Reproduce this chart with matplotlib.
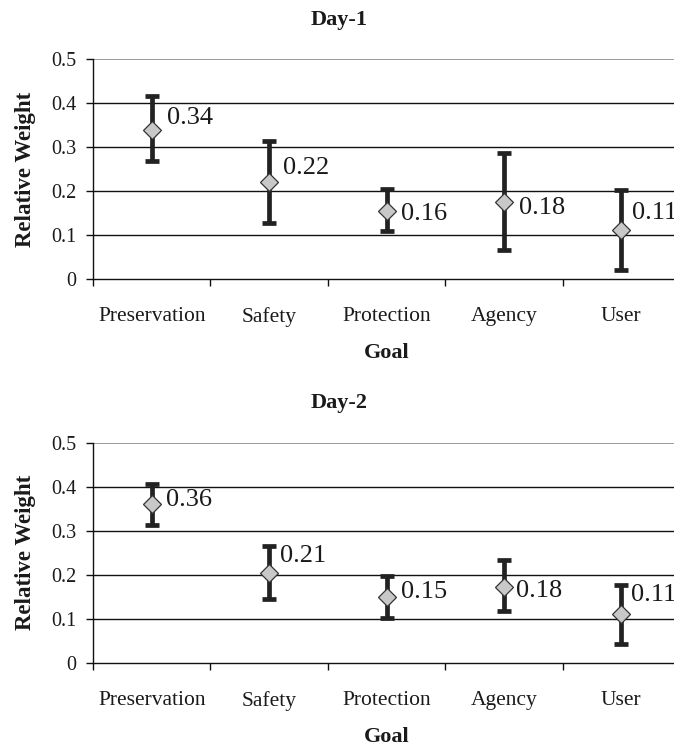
import matplotlib
matplotlib.use("Agg")
import matplotlib.pyplot as plt
import numpy as np

categories = ["Preservation", "Safety", "Protection", "Agency", "User"]
yticks = [0, 0.1, 0.2, 0.3, 0.4, 0.5]
ytick_labels = ["0", "0.1", "0.2", "0.3", "0.4", "0.5"]

day1_mean = [0.339, 0.220, 0.155, 0.174, 0.111]
day1_low = [0.268, 0.128, 0.108, 0.065, 0.021]
day1_high = [0.416, 0.314, 0.205, 0.287, 0.202]
day1_labels = ["0.34", "0.22", "0.16", "0.18", "0.11"]

day2_mean = [0.360, 0.203, 0.150, 0.172, 0.110]
day2_low = [0.313, 0.146, 0.103, 0.117, 0.043]
day2_high = [0.407, 0.265, 0.197, 0.234, 0.178]
day2_labels = ["0.36", "0.21", "0.15", "0.18", "0.11"]

# label offsets in pixels (dx, dy; dy positive = up) - styling
day1_offsets = [(15, 12), (14, 14), (14, -3), (15, -6), (11, 17)]
day2_offsets = [(14, 4), (11, 17), (14, 5), (12, -4), (10, 19)]

W, H = 674, 751
DPI = 100
plt.rcParams["font.family"] = ["Liberation Serif", "DejaVu Serif"]
TXT = "#1a1a1a"
fig = plt.figure(figsize=(W / DPI, H / DPI), dpi=DPI)

def px2pt(p):
    return p * 72.0 / DPI

def make_panel(rect, title, title_y, mean, low, high, labels, offsets):
    ax = fig.add_axes(rect)
    x = np.arange(len(categories))
    mean = np.array(mean)
    yerr = np.vstack([mean - np.array(low), np.array(high) - mean])
    ax.errorbar(x, mean, yerr=yerr, fmt="none", ecolor="#222222",
                elinewidth=3.4, capsize=5, capthick=3.4, zorder=3)
    ax.plot(x, mean, linestyle="none", marker="D", markersize=9.5,
            markerfacecolor="#c8c8c8", markeredgecolor="#333333",
            markeredgewidth=0.9, zorder=4)
    for xi, yi, lab, (dx, dy) in zip(x, mean, labels, offsets):
        ax.annotate(lab, (xi, yi), xytext=(px2pt(dx), px2pt(dy)),
                    textcoords="offset points", ha="left", va="center",
                    fontsize=19, color=TXT, zorder=5)
    ax.set_xlim(-0.5, len(categories) - 0.5)
    ax.set_ylim(0, 0.5)
    for g in yticks[1:-1]:
        ax.axhline(g, color="#111111", linewidth=1.0, zorder=1)
    ax.axhline(0.5, color="#8a8a8a", linewidth=1.2, zorder=1)
    ax.set_yticks(yticks)
    ax.set_yticklabels(ytick_labels, fontsize=14.5, color=TXT)
    ax.set_xticks(x)
    ax.set_xticklabels(categories, fontsize=15.5, color=TXT)
    ax.set_xticks(np.arange(-0.5, len(categories) - 0.4, 1.0), minor=True)
    ax.tick_params(axis="x", which="major", length=0, pad=20)
    ax.tick_params(axis="x", which="minor", length=5, width=1, color="#111111", direction="out")
    ax.tick_params(axis="y", length=5, width=1, color="#111111", direction="out", pad=7)
    for s in ["top", "right"]:
        ax.spines[s].set_visible(False)
    ax.spines["left"].set_color("#111111")
    ax.spines["bottom"].set_color("#111111")
    ax.spines["left"].set_linewidth(1.0)
    ax.spines["bottom"].set_linewidth(1.0)
    ax.set_xlabel("Goal", fontsize=16, fontweight="bold", color=TXT, labelpad=12)
    ax.set_ylabel("Relative Weight", fontsize=16.5, fontweight="bold", color=TXT, labelpad=11)
    fig.text(339 / W, 1 - title_y / H, title, ha="center", va="center",
             fontsize=16, fontweight="bold", color=TXT)
    return ax

left = 93 / W
width = (680 - 93) / W
ax1 = make_panel([left, 1 - 279 / H, width, (279 - 59) / H], "Day-1", 20,
                 day1_mean, day1_low, day1_high, day1_labels, day1_offsets)
ax2 = make_panel([left, 1 - 663 / H, width, (663 - 442.5) / H], "Day-2", 403,
                 day2_mean, day2_low, day2_high, day2_labels, day2_offsets)

fig.savefig("out.png", dpi=DPI)
